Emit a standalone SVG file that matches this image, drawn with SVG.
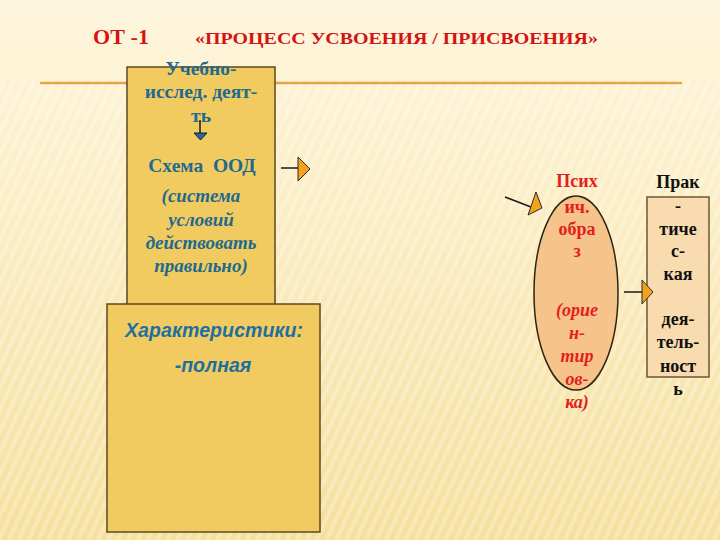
<svg xmlns="http://www.w3.org/2000/svg" width="720" height="540" viewBox="0 0 720 540">
<defs>
<linearGradient id="bg" x1="0" y1="0" x2="0" y2="1">
<stop offset="0" stop-color="#FEF6DE"/>
<stop offset="0.4" stop-color="#FBEDC4"/>
<stop offset="1" stop-color="#F6E09E"/>
</linearGradient>
<pattern id="stripes" width="9" height="9" patternUnits="userSpaceOnUse" patternTransform="rotate(25)">
<rect width="4" height="9" fill="#FFFFFF" opacity="0.25"/>
</pattern>
<style>
.box{fill:#F1CB5F;stroke:#5C4820;stroke-width:1.5}
.blue{fill:#21698F;font-family:"Liberation Serif","Times New Roman",serif;font-weight:bold;font-size:19.5px;text-anchor:middle}
.it{font-style:italic;font-size:19px}
.sans{fill:#1F6EA0;font-family:"Liberation Sans",Arial,sans-serif;font-weight:bold;font-style:italic;font-size:19.5px;text-anchor:middle}
.red{fill:#E41E1E;font-family:"Liberation Serif","Times New Roman",serif;font-weight:bold;font-size:18px;text-anchor:middle}
.blk{fill:#111111;font-family:"Liberation Serif","Times New Roman",serif;font-weight:bold;font-size:18px;text-anchor:middle}
.line{stroke:#1A1A1A;stroke-width:1.5;fill:none}
.head{fill:#F3A21E;stroke:#2A2A2A;stroke-width:1}
</style>
</defs>
<rect width="720" height="540" fill="url(#bg)"/>
<rect y="80" width="720" height="460" fill="url(#stripes)"/>
<line x1="40" y1="83" x2="682" y2="83" stroke="#E6A444" stroke-width="2.5"/>
<g id="title">
<text x="93" y="44" font-family="Liberation Serif,'Times New Roman',serif" font-weight="bold" font-size="22" fill="#D41414" textLength="56">ОТ -1</text>
<text x="195" y="44" font-family="Liberation Serif,'Times New Roman',serif" font-weight="bold" font-size="17" fill="#D41414" textLength="403" lengthAdjust="spacingAndGlyphs">«ПРОЦЕСС УСВОЕНИЯ / ПРИСВОЕНИЯ»</text>
</g>
<g id="node-schema">
<rect class="box" x="127" y="67" width="148" height="240"/>
<text class="blue" x="201" y="75">Учебно-</text>
<text class="blue" x="201" y="98">исслед. деят-</text>
<text class="blue" x="201" y="122">ть</text>
<text class="blue" x="202" y="172" font-size="20">Схема&#160; ООД</text>
<text class="blue it" x="201" y="202">(система</text>
<text class="blue it" x="201" y="226">условий</text>
<text class="blue it" x="201" y="249">действовать</text>
<text class="blue it" x="201" y="272">правильно)</text>
</g>
<g id="node-characteristics">
<rect class="box" x="107" y="304" width="213" height="228"/>
<text class="sans" x="214" y="337" textLength="178">Характеристики:</text>
<text class="sans" x="213" y="372">-полная</text>
</g>
<g id="node-image">
<ellipse cx="576" cy="293" rx="42" ry="97" fill="#F6C38A" stroke="#2E2410" stroke-width="1.5"/>
<text class="red" x="577" y="187">Псих</text>
<text class="red" x="577" y="213">ич.</text>
<text class="red" x="577" y="235">обра</text>
<text class="red" x="577" y="257">з</text>
<text class="red it" x="577" y="316" font-size="18">(орие</text>
<text class="red it" x="577" y="339" font-size="18">н-</text>
<text class="red it" x="577" y="362" font-size="18">тир</text>
<text class="red it" x="577" y="385" font-size="18">ов-</text>
<text class="red it" x="577" y="408" font-size="18">ка)</text>
</g>
<g id="node-practice">
<rect x="647" y="197" width="62" height="180" fill="#F8DCB0" stroke="#6E5634" stroke-width="1.5"/>
<text class="blk" x="678" y="188">Прак</text>
<text class="blk" x="678" y="212">-</text>
<text class="blk" x="678" y="235">тиче</text>
<text class="blk" x="678" y="257">с-</text>
<text class="blk" x="678" y="280">кая</text>
<text class="blk" x="678" y="325">дея-</text>
<text class="blk" x="678" y="348">тель-</text>
<text class="blk" x="678" y="372">ност</text>
<text class="blk" x="678" y="395">ь</text>
</g>
<g id="connectors">
<line class="line" x1="200" y1="120" x2="200" y2="133"/>
<polygon points="194,133 207,133 200.5,140" fill="#2467A8" stroke="#1A1A1A" stroke-width="1"/>
<line class="line" x1="281" y1="168" x2="298" y2="168"/>
<polygon class="head" points="298,157 310,169 298,181"/>
<line class="line" x1="505" y1="197" x2="531" y2="207"/>
<polygon class="head" points="536,192 542,208 528,215"/>
<line class="line" x1="624" y1="292" x2="642" y2="292"/>
<polygon class="head" points="642,280 653,292 642,304"/>
</g>
</svg>
